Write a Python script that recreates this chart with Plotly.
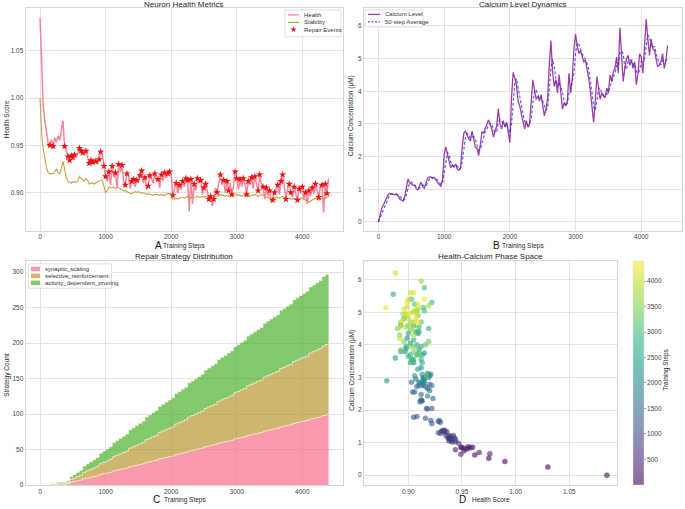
import plotly.graph_objects as go
import pandas as pd

health = [
    1.085, 1.030, 0.990, 0.975, 0.962, 0.952, 0.950, 0.956,
    0.949, 0.958, 0.953, 0.960, 0.955, 0.966, 0.976, 0.949,
    0.944, 0.938, 0.934, 0.939, 0.937, 0.940, 0.938, 0.941,
    0.947, 0.944, 0.942, 0.940, 0.944, 0.938, 0.931, 0.934,
    0.932, 0.936, 0.933, 0.930, 0.935, 0.943, 0.940, 0.928,
    0.917, 0.912, 0.922, 0.908, 0.928, 0.916, 0.921, 0.905,
    0.930, 0.922, 0.929, 0.912, 0.908, 0.920, 0.918, 0.904,
    0.912, 0.914, 0.906, 0.913, 0.911, 0.918, 0.923, 0.910,
    0.916, 0.903, 0.907, 0.918, 0.915, 0.910, 0.920, 0.913,
    0.914, 0.905, 0.919, 0.912, 0.921, 0.915, 0.920, 0.922,
    0.918, 0.897, 0.905, 0.910, 0.899, 0.908, 0.903, 0.912,
    0.906, 0.915, 0.913, 0.880, 0.914, 0.888, 0.909, 0.902,
    0.915, 0.910, 0.913, 0.898, 0.905, 0.909, 0.902, 0.893,
    0.896, 0.886, 0.893, 0.905, 0.900, 0.912, 0.919, 0.908,
    0.913, 0.900, 0.912, 0.902, 0.910, 0.898, 0.907, 0.922,
    0.915, 0.903, 0.914, 0.906, 0.915, 0.909, 0.898, 0.912,
    0.908, 0.916, 0.904, 0.917, 0.910, 0.902, 0.919, 0.910,
    0.906, 0.893, 0.905, 0.896, 0.902, 0.890, 0.892, 0.900,
    0.903, 0.908, 0.898, 0.912, 0.919, 0.905, 0.893, 0.904,
    0.909, 0.900, 0.895, 0.906, 0.898, 0.892, 0.904, 0.899,
    0.906, 0.893, 0.900, 0.888, 0.902, 0.896, 0.905, 0.899,
    0.909, 0.901, 0.895, 0.907, 0.908, 0.879, 0.909, 0.899,
    0.915,
]

stability = [
    1.000, 0.962, 0.945, 0.933, 0.926, 0.921, 0.920, 0.920,
    0.920, 0.922, 0.925, 0.921, 0.920, 0.926, 0.933, 0.925,
    0.916, 0.912, 0.911, 0.910, 0.911, 0.911, 0.911, 0.912,
    0.917, 0.915, 0.913, 0.912, 0.915, 0.913, 0.909, 0.910,
    0.910, 0.909, 0.910, 0.911, 0.912, 0.913, 0.913, 0.905,
    0.900, 0.902, 0.906, 0.905, 0.905, 0.906, 0.904, 0.906,
    0.905, 0.904, 0.903, 0.902, 0.902, 0.901, 0.900, 0.899,
    0.899, 0.900, 0.901, 0.900, 0.901, 0.900, 0.899, 0.900,
    0.899, 0.898, 0.899, 0.898, 0.898, 0.897, 0.898, 0.898,
    0.898, 0.897, 0.898, 0.897, 0.897, 0.898, 0.899, 0.899,
    0.899, 0.893, 0.893, 0.894, 0.893, 0.894, 0.895, 0.895,
    0.894, 0.895, 0.896, 0.894, 0.895, 0.894, 0.895, 0.895,
    0.896, 0.895, 0.895, 0.896, 0.895, 0.896, 0.895, 0.896,
    0.895, 0.894, 0.895, 0.896, 0.896, 0.897, 0.898, 0.897,
    0.897, 0.896, 0.897, 0.896, 0.897, 0.896, 0.896, 0.897,
    0.898, 0.897, 0.897, 0.896, 0.897, 0.897, 0.896, 0.897,
    0.896, 0.897, 0.897, 0.898, 0.897, 0.896, 0.897, 0.898,
    0.897, 0.896, 0.895, 0.895, 0.894, 0.894, 0.893, 0.894,
    0.895, 0.895, 0.894, 0.895, 0.896, 0.895, 0.894, 0.894,
    0.894, 0.893, 0.893, 0.894, 0.893, 0.893, 0.893, 0.894,
    0.894, 0.893, 0.892, 0.891, 0.890, 0.891, 0.892, 0.893,
    0.894, 0.893, 0.892, 0.893, 0.894, 0.893, 0.894, 0.895,
    0.896,
]

calcium = [
    0.00, 0.25, 0.42, 0.52, 0.62, 0.75, 0.85, 0.87,
    0.86, 0.84, 0.83, 0.86, 0.80, 0.70, 0.66, 0.64,
    0.78, 1.05, 1.32, 1.20, 1.15, 1.13, 1.12, 1.02,
    0.98, 1.10, 1.22, 1.08, 1.03, 1.20, 1.35, 1.38,
    1.37, 1.33, 1.36, 1.28, 1.22, 1.15, 1.08, 1.30,
    2.05, 2.30, 2.05, 1.80, 1.65, 1.75, 1.68, 1.78,
    1.62, 1.58, 1.68, 2.30, 2.72, 2.78, 2.65, 2.55,
    2.48, 2.78, 2.55, 2.28, 2.25, 2.03, 2.35, 2.75,
    2.72, 2.85, 2.95, 3.12, 3.00, 2.85, 2.60, 2.75,
    2.95, 3.46, 3.00, 2.85, 3.10, 2.90, 3.05, 2.75,
    2.43, 3.80, 4.58, 4.40, 4.20, 3.70, 3.55, 3.30,
    3.05, 2.85, 3.10, 2.90, 3.00, 3.60, 4.35, 4.05,
    3.75, 3.85, 3.70, 3.90, 3.55, 3.25, 3.45, 3.80,
    4.80, 5.55, 4.60, 4.15, 4.35, 3.95, 4.50, 4.00,
    3.45, 3.65, 3.55, 3.70, 4.55, 3.95, 4.40, 5.30,
    5.75, 5.40, 5.15, 5.25, 5.05, 4.90, 4.95, 4.70,
    4.40, 4.00, 3.50, 3.05, 3.70, 4.45, 4.10, 3.75,
    3.95, 3.85, 3.80, 4.10, 3.95, 4.50, 4.30, 4.60,
    4.70, 5.05, 4.55, 5.95, 5.20, 4.30, 4.70, 5.00,
    5.10, 4.80, 4.95, 4.70, 4.90, 4.20, 4.55, 5.15,
    5.05, 4.55, 5.40, 6.20, 5.60, 5.10, 5.60, 5.30,
    5.25, 4.95, 4.75, 4.80, 4.90, 5.15, 4.70, 4.95,
    5.40,
]

steps = [25 * i for i in range(len(health))]

repair_steps = [
    150, 200, 375, 425, 450, 475, 500, 525, 600, 625, 650, 700, 750, 775, 800,
    850, 900, 925, 975, 1000, 1050, 1100, 1150, 1200, 1250, 1300, 1325, 1400,
    1425, 1475, 1525, 1550, 1600, 1650, 1675, 1750, 1800, 1850, 1900, 1950,
    1975, 2025, 2075, 2125, 2175, 2225, 2250, 2300, 2350, 2400, 2450, 2500,
    2525, 2575, 2600, 2650, 2700, 2750, 2800, 2850, 2875, 2925, 2975, 3000,
    3050, 3100, 3150, 3175, 3225, 3275, 3325, 3350, 3400, 3450, 3500, 3550,
    3575, 3625, 3675, 3700, 3750, 3800, 3825, 3875, 3925, 3950, 4000, 4050,
    4100, 4150, 4200, 4250, 4300, 4350, 4375,
]

# cumulative strategy counts, sampled every 50 steps
synaptic_scaling = [
    0, 0, 0, 1, 1, 1, 1, 1, 2, 4,
    5, 6, 7, 9, 10, 11, 12, 13, 15, 16,
    17, 18, 20, 21, 22, 23, 24, 26, 27, 28,
    29, 30, 32, 33, 34, 35, 37, 38, 39, 40,
    41, 43, 44, 45, 46, 48, 49, 50, 51, 52,
    54, 55, 56, 57, 59, 60, 61, 62, 63, 65,
    66, 67, 68, 70, 71, 72, 73, 74, 76, 77,
    78, 79, 80, 82, 83, 84, 85, 87, 88, 89,
    90, 91, 93, 94, 95, 96, 98, 99, 100,
]
selective_reinforcement = [
    0, 0, 0, 0, 0, 1, 1, 1, 2, 4,
    5, 6, 7, 9, 10, 11, 12, 13, 15, 16,
    17, 18, 20, 21, 22, 23, 24, 26, 27, 28,
    29, 30, 32, 33, 34, 35, 37, 38, 39, 40,
    41, 43, 44, 45, 46, 48, 49, 50, 51, 52,
    54, 55, 56, 57, 59, 60, 61, 62, 63, 65,
    66, 67, 68, 70, 71, 72, 73, 74, 76, 77,
    78, 79, 80, 82, 83, 84, 85, 87, 88, 89,
    90, 91, 93, 94, 95, 96, 98, 99, 100,
]
activity_dependent_pruning = [
    0, 0, 0, 1, 1, 2, 2, 2, 2, 4,
    5, 6, 7, 9, 10, 11, 12, 13, 15, 16,
    17, 18, 20, 21, 22, 23, 24, 26, 27, 28,
    29, 30, 32, 33, 34, 35, 37, 38, 39, 40,
    41, 43, 44, 45, 46, 48, 49, 50, 51, 52,
    54, 55, 56, 57, 59, 60, 61, 62, 63, 65,
    66, 67, 68, 70, 71, 72, 73, 74, 76, 77,
    78, 79, 80, 82, 83, 84, 85, 87, 88, 89,
    90, 91, 93, 94, 95, 96, 98, 99, 100,
]
strategy_steps = [50 * i for i in range(len(synaptic_scaling))]

# ---------------- derived ----------------
# trailing 50-step window (three 25-step samples)
calcium_avg = pd.Series(calcium).rolling(3, min_periods=1).mean().tolist()
h_lookup = dict(zip(steps, health))
repair_health = [h_lookup[s] for s in repair_steps]

W, H = 685, 509
FONT = "Liberation Sans, Arial, sans-serif"

C_HEALTH = '#f77189'
C_STAB = '#bb9832'
C_GREEN = '#50b131'


def fx(px):
    return px / W


def fy(py):
    return 1 - py / H


def rgba(hexc, a):
    hexc = hexc.lstrip('#')
    r, g, b = int(hexc[0:2], 16), int(hexc[2:4], 16), int(hexc[4:6], 16)
    return f"rgba({r},{g},{b},{a})"


viridis = ["#440154", "#482878", "#3e4989", "#31688e", "#26828e",
           "#1f9e89", "#35b779", "#6ece58", "#b5de2b", "#fde725"]
vscale = [[i / (len(viridis) - 1), rgba(c, 0.6)] for i, c in enumerate(viridis)]

fig = go.Figure()

# ---- Panel A ----
fig.add_trace(go.Scatter(x=steps, y=health, mode='lines', name='Health', showlegend=False,
                         line=dict(color=rgba(C_HEALTH, 0.85), width=1.5),
                         xaxis='x', yaxis='y'))
fig.add_trace(go.Scatter(x=steps, y=stability, mode='lines', name='Stability', showlegend=False,
                         line=dict(color=rgba(C_STAB, 0.9), width=1.1),
                         xaxis='x', yaxis='y'))
fig.add_trace(go.Scatter(x=repair_steps, y=repair_health, mode='markers', name='Repair Events',
                         showlegend=False,
                         marker=dict(symbol='star', color='#ee1111', size=5.5, line=dict(width=0)),
                         xaxis='x', yaxis='y'))

# ---- Panel B ----
fig.add_trace(go.Scatter(x=steps, y=calcium, mode='lines', name='Calcium Level', showlegend=False,
                         line=dict(color=rgba('#800080', 0.75), width=1.3),
                         xaxis='x2', yaxis='y2'))
fig.add_trace(go.Scatter(x=steps, y=calcium_avg, mode='lines', name='50-step Average', showlegend=False,
                         line=dict(color=rgba('#2a2ae6', 0.75), width=1.2, dash='3px,2px'),
                         xaxis='x2', yaxis='y2'))

# ---- Panel C ----
strategies = [("synaptic_scaling", synaptic_scaling, C_HEALTH),
              ("selective_reinforcement", selective_reinforcement, C_STAB),
              ("activity_dependent_pruning", activity_dependent_pruning, C_GREEN)]
for name, vals, col in strategies:
    fig.add_trace(go.Scatter(x=strategy_steps, y=vals, mode='lines', name=name, showlegend=False,
                             stackgroup='one',
                             line=dict(color='rgba(255,255,235,0.8)', width=0.7, shape='hv'),
                             fillcolor=rgba(col, 0.7),
                             xaxis='x3', yaxis='y3'))

# ---- Panel D ----
fig.add_trace(go.Scatter(x=health, y=calcium, mode='markers', showlegend=False,
                         marker=dict(size=5.5, color=steps, colorscale=vscale,
                                     cmin=min(steps), cmax=max(steps), line=dict(width=0),
                                     colorbar=dict(thickness=11, len=224, lenmode='pixels',
                                                   x=fx(633), xanchor='left', xpad=0, ypad=0,
                                                   y=fy(375), yanchor='middle',
                                                   tickvals=[500, 1000, 1500, 2000, 2500, 3000, 3500, 4000],
                                                   ticks='outside', ticklen=2, tickcolor='#999',
                                                   tickfont=dict(size=6.5, color='#444', family=FONT),
                                                   outlinewidth=0.5, outlinecolor='#ddd')),
                         xaxis='x4', yaxis='y4'))

axis_style = dict(showgrid=True, gridcolor='#e2e2e2', gridwidth=1, showline=True,
                  linecolor='#d6d6d6', linewidth=1, mirror=True, zeroline=False,
                  ticks='', tickfont=dict(size=6.5, color='#444', family=FONT))

step_ticks = [0, 1000, 2000, 3000, 4000]
fig.update_layout(
    width=W, height=H, margin=dict(l=0, r=0, t=0, b=0),
    paper_bgcolor='white', plot_bgcolor='white', showlegend=False,
    font=dict(family=FONT, size=7, color='#333'),
    xaxis=dict(domain=[fx(25.6), fx(343)], range=[-220, 4620], tickvals=step_ticks, anchor='y', **axis_style),
    yaxis=dict(domain=[fy(232), fy(8)], range=[0.8597, 1.0953], tickvals=[0.90, 0.95, 1.00, 1.05],
               tickformat='.2f', anchor='x', **axis_style),
    xaxis2=dict(domain=[fx(364), fx(682)], range=[-220, 4620], tickvals=step_ticks, anchor='y2', **axis_style),
    yaxis2=dict(domain=[fy(232), fy(8)], range=[-0.265, 6.55], tickvals=[0, 1, 2, 3, 4, 5, 6],
                anchor='x2', **axis_style),
    xaxis3=dict(domain=[fx(25.6), fx(343)], range=[-220, 4620], tickvals=step_ticks, anchor='y3', **axis_style),
    yaxis3=dict(domain=[fy(488), fy(263)], range=[0, 315], tickvals=[0, 50, 100, 150, 200, 250, 300],
                anchor='x3', **axis_style),
    xaxis4=dict(domain=[fx(364), fx(617.3)], range=[0.8588, 1.0947], tickvals=[0.90, 0.95, 1.00, 1.05],
                tickformat='.2f', anchor='y4', **axis_style),
    yaxis4=dict(domain=[fy(488), fy(263)], range=[-0.305, 6.56], tickvals=[0, 1, 2, 3, 4, 5, 6],
                anchor='x4', **axis_style),
)

ann = []
shapes = []


def text(x, y, s, size=7, angle=0, color='#262626', xanchor='center'):
    ann.append(dict(x=fx(x), y=fy(y), xref='paper', yref='paper', text=s, showarrow=False,
                    xanchor=xanchor, yanchor='middle', textangle=angle,
                    font=dict(size=size, family=FONT, color=color)))


def box(x0, y0, x1, y1):
    shapes.append(dict(type='rect', xref='paper', yref='paper', layer='above',
                       x0=fx(x0), x1=fx(x1), y0=fy(y1), y1=fy(y0),
                       fillcolor='rgba(255,255,255,0.85)', line=dict(color='#d8d8d8', width=0.8)))


def seg(x0, x1, y, color, width=1.3, dash='solid'):
    shapes.append(dict(type='line', xref='paper', yref='paper', layer='above',
                       x0=fx(x0), x1=fx(x1), y0=fy(y), y1=fy(y),
                       line=dict(color=color, width=width, dash=dash)))


def patch(x0, x1, y, color):
    shapes.append(dict(type='rect', xref='paper', yref='paper', layer='above',
                       x0=fx(x0), x1=fx(x1), y0=fy(y + 2.3), y1=fy(y - 2.3),
                       fillcolor=color, line=dict(width=0)))


LEG = 6

# legend A
box(285, 10, 341, 37)
seg(288, 299, 15, rgba(C_HEALTH, 0.85))
text(302, 15, "Health", LEG, xanchor='left', color='#333')
seg(288, 299, 22.5, rgba(C_STAB, 0.9))
text(302, 22.5, "Stability", LEG, xanchor='left', color='#333')
text(293.5, 30, "★", 8, color='#ee1111')
text(302, 30, "Repair Events", LEG, xanchor='left', color='#333')

# legend B
box(365, 10, 423, 27)
seg(368, 380, 14.5, rgba('#800080', 0.75))
text(383, 14.5, "Calcium Level", LEG, xanchor='left', color='#333')
seg(368, 380, 22, rgba('#2a2ae6', 0.75), 1.2, '2px,1.5px')
text(383, 22, "50-step Average", LEG, xanchor='left', color='#333')

# legend C
box(28.5, 265.5, 111.5, 290)
for (name, _, col), yy in zip(strategies, [270.5, 277.5, 284.5]):
    patch(31, 40, yy, rgba(col, 0.7))
    text(43, yy, name, LEG, xanchor='left', color='#333')

# titles
text(184, 4.5, "Neuron Health Metrics", 8)
text(523, 4.5, "Calcium Level Dynamics", 8)
text(184, 258, "Repair Strategy Distribution", 8)
text(490.5, 258, "Health-Calcium Phase Space", 8)
# x labels
text(184, 247.5, "Training Steps", 6.5)
text(523, 247.5, "Training Steps", 6.5)
text(185, 502.5, "Training Steps", 6.5)
text(491, 502.5, "Health Score", 6.5)
# panel letters
text(158, 247, "A", 10, color='#111')
text(496, 247, "B", 10, color='#111')
text(156, 502, "C", 10, color='#111')
text(462, 502, "D", 10, color='#111')
# y labels
text(6, 120, "Health Score", 6.5, -90)
text(351, 117, "Calcium Concentration (μM)", 6.5, -90)
text(7, 377, "Strategy Count", 6.5, -90)
text(352, 373, "Calcium Concentration (μM)", 6.5, -90)
text(666, 372, "Training Steps", 6.5, -90)

fig.update_layout(annotations=ann, shapes=shapes)

fig.write_html("out.html")
